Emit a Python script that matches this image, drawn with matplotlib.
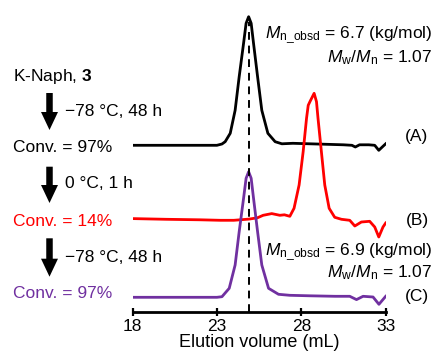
import matplotlib
matplotlib.use("Agg")
import matplotlib.pyplot as plt
from matplotlib.patches import FancyArrow

plt.rcParams['font.family'] = ['Liberation Sans', 'DejaVu Sans']
plt.rcParams['mathtext.fontset'] = 'custom'
plt.rcParams['mathtext.rm'] = 'Liberation Sans'
plt.rcParams['mathtext.it'] = 'Liberation Sans:italic'
plt.rcParams['mathtext.bf'] = 'Liberation Sans:bold'

# ---- data (elution volume in mL, detector signal incl. offset, arbitrary units) ----
x_A = [18.0, 21.0, 23.0, 23.3, 23.49, 23.79, 24.08, 24.32, 24.58, 24.73, 24.88,
       25.03, 25.17, 25.41, 25.66, 26.02, 26.45, 26.85,
       27.5, 28.5, 29.5, 30.5, 31.0, 31.2, 31.45, 32.0, 32.35, 32.59, 32.84, 33.0]
y_A = [167, 167, 167, 168.3, 170.6, 179, 202, 235.6, 269, 289, 295.6,
       289, 269, 235.6, 202, 179, 170.6, 168.5,
       169, 168.5, 168, 167.5, 167, 165.3, 167.5, 167.5, 167, 162, 166, 168.5]

x_B = [18.0, 20.0, 22.0, 23.2, 24.0, 24.9, 25.4, 25.74, 26.25, 26.73, 27.0,
       27.32, 27.57, 27.87, 28.11, 28.31, 28.41, 28.51, 28.76, 28.90, 28.99, 29.19,
       29.39, 29.65, 29.98, 30.38, 30.87, 31.17, 31.56, 32.05, 32.35, 32.59, 32.84, 33.0]
y_B = [93.7, 93, 92.5, 92, 92, 93.2, 94.5, 97, 98.7, 97, 97.5,
       96, 104, 127.3, 160.6, 194, 207, 210.6, 219, 210.6, 194, 160.6,
       127.3, 104, 95, 93, 92, 86.3, 90.3, 91, 85.3, 75.3, 85.3, 89.3]

x_C = [18.0, 21.0, 23.0, 23.3, 23.73, 24.08, 24.32, 24.58, 24.73, 24.88,
       25.03, 25.17, 25.41, 25.66, 26.06, 26.65, 27.32, 28.5, 30.0, 30.87,
       31.27, 31.66, 32.25, 32.6, 33.0]
y_C = [15, 15, 15, 15.6, 24, 47.3, 80.6, 114, 134, 140.6,
       134, 114, 80.6, 47.3, 24, 18, 17, 16.5, 16, 16,
       12.7, 16, 15.3, 8, 16]

peak_volume = 24.88
x_ticks = [18, 23, 28, 33]

fig = plt.figure(figsize=(4.35, 3.6), dpi=100)
ax = fig.add_axes([132.5 / 435, 47.7 / 360, 253.2 / 435, 312.3 / 360])
ax.plot(x_A, y_A, color='black', lw=2.0, solid_joinstyle='round')
ax.plot(x_B, y_B, color='#FF0000', lw=2.0, solid_joinstyle='round')
ax.plot(x_C, y_C, color='#7030A0', lw=2.0, solid_joinstyle='round')
ax.plot([peak_volume, peak_volume], [0, 290], color='black', lw=1.4, ls=(0, (4, 3)))

ax.set_xlim(18, 33)
ax.set_ylim(0, 312.3)
for s in ['left', 'right', 'top']:
    ax.spines[s].set_visible(False)
ax.spines['bottom'].set_linewidth(2.0)
ax.set_yticks([])
ax.set_xticks(x_ticks)
ax.tick_params(axis='x', direction='inout', length=6, width=1.6, labelsize=12.5, pad=2)
ax.set_xlabel('Elution volume (mL)', fontsize=13, labelpad=0)
ax.patch.set_alpha(0)

ov = fig.add_axes([0, 0, 1, 1])
ov.set_xlim(0, 435)
ov.set_ylim(360, 0)
ov.axis('off')

fs = 12.5
ov.text(13, 76, r'K-Naph, $\mathbf{3}$', fontsize=fs, va='center', ha='left')
ov.text(13, 148, 'Conv. = 97%', fontsize=fs, va='center', ha='left', color='black')
ov.text(13, 221, 'Conv. = 14%', fontsize=fs, va='center', ha='left', color='#FF0000')
ov.text(13, 294, 'Conv. = 97%', fontsize=fs, va='center', ha='left', color='#7030A0')
ov.text(65, 112, '\u221278 \u00b0C, 48 h', fontsize=fs, va='center', ha='left')
ov.text(65, 184, '0 \u00b0C, 1 h', fontsize=fs, va='center', ha='left')
ov.text(65, 257, '\u221278 \u00b0C, 48 h', fontsize=fs, va='center', ha='left')

for top, tip in [(93, 130), (166.7, 203), (238.3, 276.7)]:
    ov.add_patch(FancyArrow(49.5, top, 0, tip - top, width=6.5, head_width=17,
                            head_length=18, length_includes_head=True,
                            color='black', lw=0))

ov.text(432, 35, r'$M_{\mathrm{n\_obsd}}$ = 6.7 (kg/mol)', fontsize=fs, va='center', ha='right')
ov.text(432, 58, r'$M_{\mathrm{w}}$/$M_{\mathrm{n}}$ = 1.07', fontsize=fs, va='center', ha='right')
ov.text(432, 252, r'$M_{\mathrm{n\_obsd}}$ = 6.9 (kg/mol)', fontsize=fs, va='center', ha='right')
ov.text(432, 273, r'$M_{\mathrm{w}}$/$M_{\mathrm{n}}$ = 1.07', fontsize=fs, va='center', ha='right')

ov.text(417, 137, '(A)', fontsize=fs, va='center', ha='center')
ov.text(417, 220, '(B)', fontsize=fs, va='center', ha='center')
ov.text(417, 297, '(C)', fontsize=fs, va='center', ha='center')

fig.savefig('out.png', dpi=100)
